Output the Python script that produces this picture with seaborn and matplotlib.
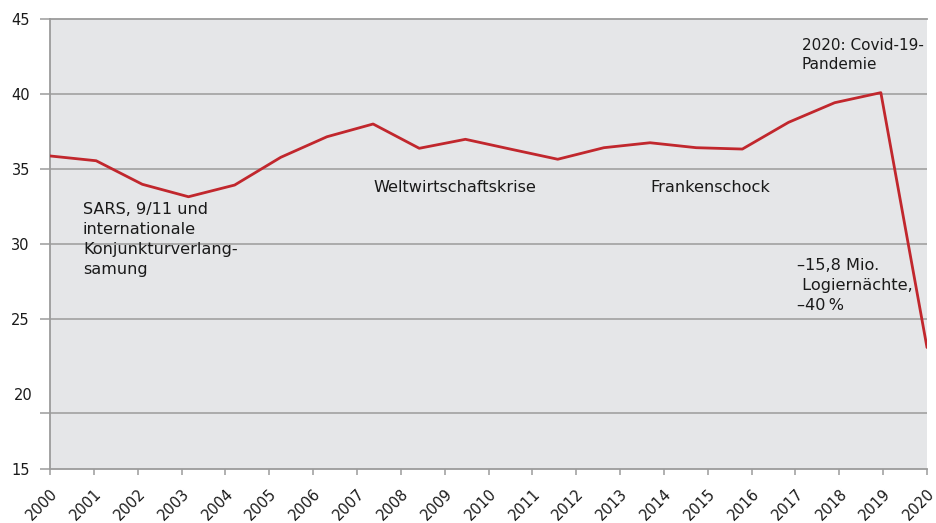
import matplotlib
matplotlib.use("Agg")
import matplotlib.pyplot as plt
import numpy as np
import pandas as pd
import seaborn as sns

# Logiernächte in Mio. (20 Punkte, gleichmässig über die Achse 2000-2020 verteilt)
values = [35.87, 35.55, 33.98, 33.15, 33.93, 35.78, 37.15, 38.0, 36.38, 36.98,
          36.31, 35.65, 36.42, 36.75, 36.42, 36.33, 38.11, 39.42, 40.09, 23.1]
years = list(range(2000, 2021))
ytick_vals = [15, 25, 30, 35, 40, 45]
grid_20 = 18.75  # Linie beim Label "20" sitzt im Original tiefer

line_color = "#c1272d"
grid_color = "#9b9b9b"
bg_color = "#e5e6e8"
text_color = "#1a1a1a"

sns.set_style("white", {"axes.facecolor": bg_color})
plt.rcParams["font.family"] = ["DejaVu Sans"]

df = pd.DataFrame({"x": np.linspace(years[0], years[-1], len(values)), "y": values})

fig = plt.figure(figsize=(9.37, 5.23), dpi=100)
ax = fig.add_axes([50 / 937, 1 - 469 / 523, 877 / 937, 450 / 523])

sns.lineplot(data=df, x="x", y="y", ax=ax, color=line_color, linewidth=2.0, zorder=3)

ax.set_xlim(2000, 2020)
ax.set_ylim(15, 45)

# y-Achse
ax.set_yticks(ytick_vals[:1] + [grid_20] + ytick_vals[1:])
ax.set_yticklabels(["15", ""] + [str(v) for v in ytick_vals[1:]])
ax.set_yticks([20], minor=True)
ax.set_yticklabels(["20"], minor=True)
ax.tick_params(axis="y", which="major", left=True, length=7.5, width=1.1,
               color=grid_color, labelsize=10.5, pad=7, labelcolor=text_color)
ax.tick_params(axis="y", which="minor", left=True, length=0, labelsize=10.5,
               pad=12.5, labelcolor=text_color)
for v in ytick_vals[1:-1] + [grid_20]:
    ax.axhline(v, color=grid_color, lw=1.1, zorder=1)

# x-Achse
ax.set_xticks(years)
ax.set_xticklabels([str(y) for y in years], rotation=45, ha="right", va="top",
                   rotation_mode="anchor")
ax.tick_params(axis="x", bottom=True, length=4.5, width=1.1, color=grid_color,
               labelsize=10.5, pad=8, labelcolor=text_color)

ax.set_xlabel("")
ax.set_ylabel("")

ax.spines["right"].set_visible(False)
for side in ["left", "bottom", "top"]:
    ax.spines[side].set_color(grid_color)
    ax.spines[side].set_linewidth(1.3)

# Annotationen
txt = dict(fontsize=11.6, color=text_color, va="top", ha="left", linespacing=1.42)
ax.text(2000.75, 32.8, "SARS, 9/11 und\ninternationale\nKonjunkturverlang-\nsamung", **txt)
ax.text(2007.37, 34.3, "Weltwirtschaftskrise", **txt)
ax.text(2013.7, 34.3, "Frankenschock", **txt)
ax.text(2017.14, 43.7, "2020: Covid-19-\nPandemie",
        **dict(txt, fontsize=11, linespacing=1.32))
ax.text(2017.03, 29.05, "\u201315,8 Mio.\n Logiernächte,\n\u201340\u2009%", **txt)

fig.savefig("out.png", dpi=100)
